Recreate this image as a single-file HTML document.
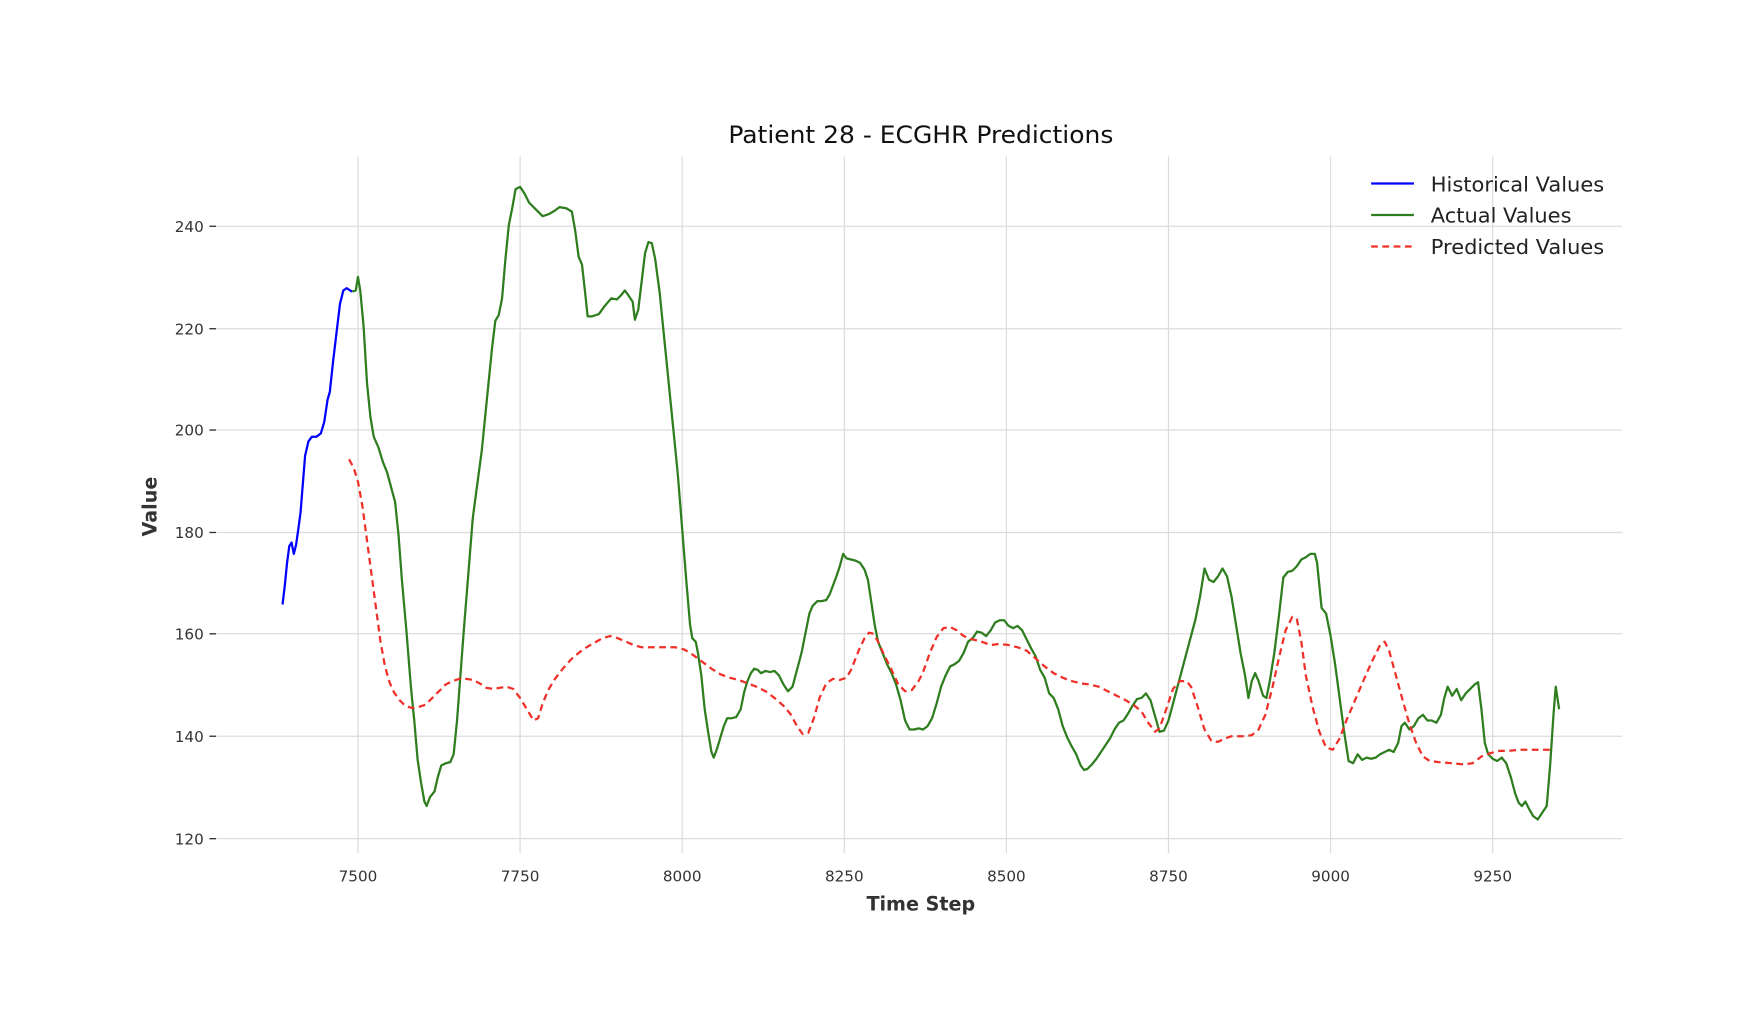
<!DOCTYPE html>
<html><head><meta charset="utf-8"><style>html,body{margin:0;padding:0;background:#fff}svg{display:block}</style></head>
<body>
<svg width="1764" height="1026" viewBox="0 0 1567 911.4" xmlns="http://www.w3.org/2000/svg" font-family="'DejaVu Sans','Liberation Sans',sans-serif">
<rect width="1567" height="911.4" fill="#fff"/>
<g stroke="#dcdcdc" stroke-width="1.1">
<line x1="193" x2="1441" y1="201" y2="201"/><line x1="193" x2="1441" y1="292" y2="292"/><line x1="193" x2="1441" y1="382" y2="382"/><line x1="193" x2="1441" y1="473" y2="473"/><line x1="193" x2="1441" y1="563" y2="563"/><line x1="193" x2="1441" y1="654" y2="654"/><line x1="193" x2="1441" y1="745" y2="745"/>
<line x1="318" x2="318" y1="139" y2="758"/><line x1="462" x2="462" y1="139" y2="758"/><line x1="606" x2="606" y1="139" y2="758"/><line x1="750" x2="750" y1="139" y2="758"/><line x1="894" x2="894" y1="139" y2="758"/><line x1="1038" x2="1038" y1="139" y2="758"/><line x1="1182" x2="1182" y1="139" y2="758"/><line x1="1326" x2="1326" y1="139" y2="758"/>
</g>
<g stroke="#333" stroke-width="1.2"><line x1="186" x2="192" y1="201" y2="201"/><line x1="186" x2="192" y1="292" y2="292"/><line x1="186" x2="192" y1="382" y2="382"/><line x1="186" x2="192" y1="473" y2="473"/><line x1="186" x2="192" y1="563" y2="563"/><line x1="186" x2="192" y1="654" y2="654"/><line x1="186" x2="192" y1="745" y2="745"/></g>
<g font-size="13.5" fill="#333" text-anchor="end"><text x="181" y="206">240</text><text x="181" y="297">220</text><text x="181" y="387">200</text><text x="181" y="478">180</text><text x="181" y="568">160</text><text x="181" y="659">140</text><text x="181" y="750">120</text></g>
<g font-size="13.5" fill="#333" text-anchor="middle"><text x="318" y="783">7500</text><text x="462" y="783">7750</text><text x="606" y="783">8000</text><text x="750" y="783">8250</text><text x="894" y="783">8500</text><text x="1038" y="783">8750</text><text x="1182" y="783">9000</text><text x="1326" y="783">9250</text></g>
<text x="818" y="809" font-size="17" font-weight="bold" fill="#333" text-anchor="middle">Time Step</text>
<text transform="translate(139,450) rotate(-90)" font-size="17" font-weight="bold" fill="#333" text-anchor="middle">Value</text>
<text x="818" y="127" font-size="21" fill="#111" text-anchor="middle" textLength="342" lengthAdjust="spacingAndGlyphs">Patient 28 - ECGHR Predictions</text>
<polyline fill="none" stroke="#0000ff" stroke-width="2" stroke-linejoin="round" points="251,537 253,520 255,500 257,485 259,482 261,492 263,484 265,470 267,455 269,430 271,405 274,392 277,388 281,388 285,385 288,375 291,355 293,348 296,320 299,295 302,270 305,258 308,256 311,258 313,259"/>
<polyline fill="none" stroke="#2e7d1e" stroke-width="2" stroke-linejoin="round" points="313,259 316,258 318,246 320,258 323,290 326,340 329,370 332,388 336,397 340,410 344,420 348,435 351,446 354,475 357,515 361,560 365,610 368,640 371,675 374,695 377,712 379,716 382,708 386,703 389,690 392,680 396,678 400,677 403,670 406,640 409,600 412,560 416,510 420,460 424,430 428,400 431,370 434,340 437,310 440,285 443,280 446,265 449,230 452,200 455,185 458,168 462,166 466,172 470,180 476,186 482,192 488,190 493,187 497,184 503,185 508,188 511,205 514,228 517,235 520,262 522,281 526,281 532,279 537,272 543,265 548,266 552,262 555,258 558,262 562,268 564,284 567,275 570,250 573,225 576,215 579,216 582,230 586,260 590,300 594,340 598,380 602,420 606,470 610,520 613,555 615,567 618,570 620,580 623,600 626,630 629,650 632,668 634,673 637,665 640,655 643,645 646,638 650,638 654,637 658,630 661,615 664,605 667,598 670,594 673,595 676,598 680,596 684,597 688,596 692,600 696,608 700,614 704,610 708,595 712,580 716,560 719,545 722,538 726,534 730,534 734,533 737,528 740,520 743,512 746,503 749,492 752,496 756,497 760,498 764,500 768,506 771,515 774,535 777,555 780,570 784,580 788,590 792,598 796,608 800,622 804,640 808,648 812,648 816,647 820,648 824,645 828,638 832,625 836,610 840,600 844,592 848,590 852,587 856,580 860,570 864,567 868,561 872,562 876,565 880,560 884,553 888,551 892,551 896,556 900,558 904,556 908,560 912,568 916,576 920,583 924,595 928,602 932,616 936,620 940,630 944,645 948,655 952,663 956,670 960,680 963,684 966,683 970,679 974,674 978,668 982,662 986,656 990,648 994,642 998,640 1002,634 1006,627 1010,621 1014,620 1018,616 1022,622 1026,636 1030,650 1034,649 1038,640 1042,625 1046,610 1050,595 1054,580 1058,565 1062,550 1066,530 1070,505 1074,515 1078,517 1082,512 1086,505 1090,512 1094,530 1098,555 1102,580 1106,600 1109,620 1112,605 1115,598 1118,605 1122,618 1125,620 1128,605 1132,580 1136,548 1140,513 1144,508 1148,507 1152,503 1156,497 1160,495 1164,492 1168,492 1170,500 1172,520 1174,540 1178,545 1182,565 1186,590 1190,620 1194,650 1198,676 1202,678 1206,670 1210,675 1214,673 1218,674 1222,673 1226,670 1230,668 1234,666 1238,668 1242,660 1245,645 1248,642 1252,648 1256,645 1260,638 1264,635 1268,640 1272,640 1276,642 1280,635 1283,620 1286,610 1290,618 1294,612 1298,622 1302,616 1306,612 1310,608 1313,606 1316,630 1319,660 1322,670 1326,674 1330,676 1334,673 1338,678 1342,690 1346,705 1349,713 1352,716 1355,712 1358,718 1362,725 1366,728 1370,722 1374,716 1377,680 1380,635 1382,610 1385,630"/>
<polyline fill="none" stroke="#f03028" stroke-width="2" stroke-dasharray="6,4" stroke-linejoin="round" points="310,408 314,415 318,428 322,450 326,480 330,510 334,540 338,570 342,592 346,606 350,615 355,622 360,627 366,629 372,628 378,626 384,620 390,614 396,608 402,605 408,603 414,603 420,604 426,607 432,611 438,612 444,611 450,610 456,612 462,620 468,630 474,640 478,638 482,625 487,613 493,603 500,594 507,586 514,580 521,575 528,571 535,567 542,565 549,567 556,570 563,573 570,575 580,575 590,575 600,575 608,577 616,582 624,588 632,594 640,599 648,602 656,604 664,607 672,610 680,614 688,620 696,627 702,634 708,645 713,652 718,651 723,638 728,620 734,607 740,603 746,604 752,602 756,595 760,585 764,575 768,567 772,562 776,563 780,570 786,583 792,595 798,608 804,614 810,613 816,605 820,597 826,580 832,566 838,558 844,557 850,560 856,565 864,568 872,570 880,573 888,572 896,573 904,575 912,578 920,585 928,592 936,598 944,602 952,605 960,607 968,608 976,610 984,614 992,618 1000,622 1008,627 1014,632 1020,642 1026,650 1030,647 1036,630 1042,612 1048,605 1054,605 1058,610 1064,628 1070,648 1076,658 1082,659 1088,656 1094,654 1100,654 1106,654 1112,653 1118,648 1124,635 1130,612 1136,585 1142,560 1148,548 1152,550 1156,570 1160,600 1166,628 1172,650 1178,664 1184,666 1190,656 1196,640 1202,626 1208,612 1214,598 1220,585 1226,573 1230,570 1234,578 1240,600 1246,622 1252,643 1258,660 1264,672 1270,676 1278,677 1290,678 1300,679 1308,678 1316,672 1324,669 1332,667 1340,667 1350,666 1360,666 1370,666 1380,666"/>
<g stroke-width="2"><line x1="1218" x2="1256" y1="163" y2="163" stroke="#0000ff"/><line x1="1218" x2="1256" y1="191" y2="191" stroke="#2e7d1e"/><line x1="1218" x2="1256" y1="219" y2="219" stroke="#f03028" stroke-dasharray="6,4"/></g>
<g font-size="18" fill="#222"><text x="1271" y="170" textLength="154" lengthAdjust="spacingAndGlyphs">Historical Values</text><text x="1271" y="197.5" textLength="125" lengthAdjust="spacingAndGlyphs">Actual Values</text><text x="1271" y="225.5" textLength="154" lengthAdjust="spacingAndGlyphs">Predicted Values</text></g>
</svg>
</body></html>
